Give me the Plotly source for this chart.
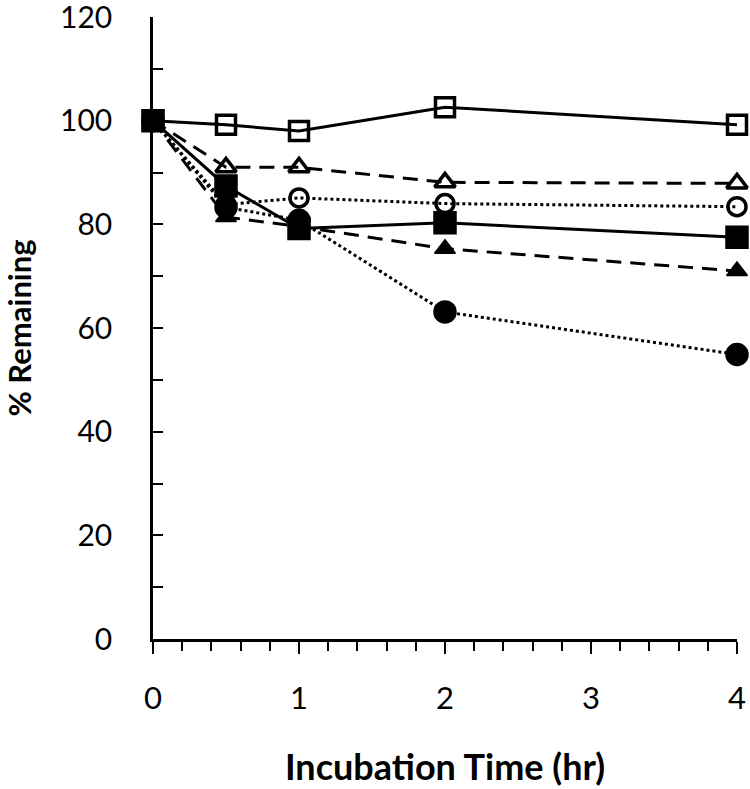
import plotly.graph_objects as go

time_hr = [0, 0.5, 1, 2, 4]

open_square = [100, 99.2, 98.0, 102.6, 99.2]
open_triangle = [100, 91.0, 91.0, 88.1, 87.9]
open_circle = [100, 83.8, 85.1, 84.0, 83.4]
filled_square = [100, 87.4, 79.2, 80.3, 77.5]
filled_triangle = [100, 81.4, 79.6, 75.3, 71.0]
filled_circle = [100, 83.3, 80.8, 63.1, 54.9]

series = [
    ("filled circle", filled_circle, "circle", "3px,3px", True),
    ("filled triangle", filled_triangle, "triangle-up", "15px,9px", True),
    ("open circle", open_circle, "circle-open", "3px,3px", False),
    ("open triangle", open_triangle, "triangle-up-open", "15px,9px", False),
    ("open square", open_square, "square-open", "solid", False),
    ("filled square", filled_square, "square", "solid", True),
]

fig = go.Figure()
for name, vals, sym, dash, filled in series:
    if filled:
        size = {"circle": 22, "triangle-up": 18, "square": 22}[sym]
        marker = dict(symbol=sym, size=size, color="black",
                      line=dict(color="black", width=1.5))
    else:
        size = {"circle-open": 18, "triangle-up-open": 18, "square-open": 19}[sym]
        marker = dict(symbol=sym, size=size, color="black",
                      line=dict(color="black", width=3.5))
    fig.add_trace(go.Scatter(
        x=time_hr, y=vals, name=name, mode="lines+markers",
        line=dict(color="black", width=3, dash=dash),
        marker=marker, showlegend=False, cliponaxis=False,
    ))

font_family = "Lato, 'Open Sans', sans-serif"

fig.update_layout(
    width=750, height=789,
    margin=dict(l=153, r=13, t=17, b=150),
    paper_bgcolor="white", plot_bgcolor="white",
    font=dict(family=font_family, color="black", size=30),
    xaxis=dict(
        range=[0, 4], tickmode="array", tickvals=[0, 1, 2, 3, 4],
        ticks="outside", ticklen=12, tickwidth=2, tickcolor="black",
        minor=dict(dtick=0.2, ticks="outside", ticklen=9, tickwidth=2, tickcolor="black"),
        showline=True, linecolor="black", linewidth=2.5,
        showgrid=False, zeroline=False, automargin=False,
        tickfont=dict(size=31), ticklabelstandoff=18, ticklabeloverflow="allow",
        title=dict(text="<b>Incubation Time (hr)</b>", font=dict(size=36), standoff=40),
    ),
    yaxis=dict(
        range=[0, 120], tickmode="array", tickvals=[0, 20, 40, 60, 80, 100, 120],
        ticks="inside", ticklen=10, tickwidth=2, tickcolor="black",
        minor=dict(dtick=10, ticks="inside", ticklen=10, tickwidth=2, tickcolor="black"),
        showline=True, linecolor="black", linewidth=2.5,
        showgrid=False, zeroline=False, automargin=False,
        tickfont=dict(size=30), ticklabelstandoff=32, ticklabeloverflow="allow",
        title=dict(text="<b>% Remaining</b>", font=dict(size=31), standoff=22),
    ),
)

fig.write_html(
    "out.html",
    config={"displayModeBar": False},
    post_script="document.body.style.margin='0';document.body.style.overflow='hidden';",
)
